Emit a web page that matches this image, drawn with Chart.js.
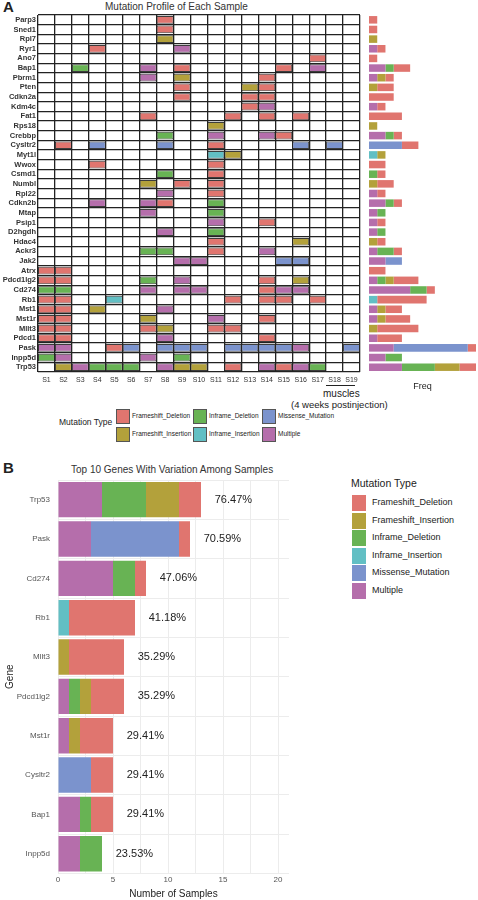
<!DOCTYPE html>
<html><head><meta charset="utf-8">
<script src="https://cdn.jsdelivr.net/npm/chart.js@4/dist/chart.umd.min.js"></script>
<style>
body{margin:0;width:478px;height:900px;position:relative;background:#fff;font-family:Arial,"Liberation Sans",sans-serif;overflow:hidden}
canvas{position:absolute}
.t{position:absolute;white-space:nowrap;color:#222}
.sw{position:absolute;width:14px;height:15px;border:1px solid #555;box-sizing:border-box}
</style></head><body>
<div class="t" style="left:3px;top:-2px;font-size:15px;font-weight:bold">A</div>
<div class="t" style="left:105px;top:1px;font-size:10px;color:#333">Mutation Profile of Each Sample</div>
<div class="t" style="left:3px;top:459px;font-size:15px;font-weight:bold">B</div>
<div class="t" style="left:71px;top:464px;font-size:10px;color:#333">Top 10 Genes With Variation Among Samples</div>
<div style="position:absolute;left:326px;top:385px;width:29px;height:1px;background:#222"></div>
<div class="t" style="left:323px;top:388px;font-size:10px">muscles</div>
<div class="t" style="left:291px;top:399px;font-size:9.5px">(4 weeks postinjection)</div>
<div id="legA"></div><div id="legB"></div>
<canvas id="cA" style="left:0;top:0" width="362" height="392"></canvas>
<canvas id="cF" style="left:362px;top:0" width="116" height="392"></canvas>
<canvas id="cB" style="left:0;top:460px" width="300" height="440"></canvas>
<script>
const samples=["S1","S2","S3","S4","S5","S6","S7","S8","S9","S10","S11","S12","S13","S14","S15","S16","S17","S18","S19"];
const genes=["Parp3","Sned1","Rpl7","Ryr1","Ano7","Bap1","Pbrm1","Pten","Cdkn2a","Kdm4c","Fat1","Rps18","Crebbp","Cysltr2","Myt1l","Wwox","Csmd1","Numbl","Rpl22","Cdkn2b","Mtap","Psip1","D2hgdh","Hdac4","Ackr3","Jak2","Atrx","Pdcd1lg2","Cd274","Rb1","Mst1","Mst1r","Mllt3","Pdcd1","Pask","Inpp5d","Trp53"];
const types=["Frameshift_Deletion","Frameshift_Insertion","Inframe_Deletion","Inframe_Insertion","Missense_Mutation","Multiple"];
const typeColors=["#E0756F","#B3A13B","#68B354","#62BFC4","#7B93CD","#B56EAB"];
const stackOrder=["Multiple","Inframe_Insertion","Inframe_Deletion","Frameshift_Insertion","Missense_Mutation","Frameshift_Deletion"];
// codes: D=Frameshift_Deletion I=Frameshift_Insertion G=Inframe_Deletion C=Inframe_Insertion B=Missense M=Multiple
const codeMap={D:"Frameshift_Deletion",I:"Frameshift_Insertion",G:"Inframe_Deletion",C:"Inframe_Insertion",B:"Missense_Mutation",M:"Multiple"};
const profile={
Parp3:{S8:"D"},Sned1:{S8:"D"},Rpl7:{S8:"I"},Ryr1:{S4:"D",S9:"M"},Ano7:{S17:"D"},
Bap1:{S3:"G",S7:"M",S9:"D",S15:"D",S17:"M"},Pbrm1:{S7:"M",S9:"I",S14:"D"},
Pten:{S9:"D",S13:"I",S14:"D"},Cdkn2a:{S9:"D",S13:"D",S14:"D"},Kdm4c:{S13:"D",S14:"M"},
Fat1:{S7:"D",S12:"D",S14:"D",S16:"D"},Rps18:{S11:"I"},Crebbp:{S8:"G",S11:"M",S14:"M",S15:"D"},
Cysltr2:{S2:"D",S4:"B",S8:"B",S11:"D",S16:"B",S18:"B"},Myt1l:{S11:"C",S12:"I"},Wwox:{S4:"D",S11:"D"},
Csmd1:{S8:"G",S11:"D"},Numbl:{S7:"I",S9:"D",S11:"D"},Rpl22:{S8:"M",S11:"D"},
Cdkn2b:{S4:"M",S7:"M",S8:"D",S11:"G"},Mtap:{S7:"M",S11:"G"},Psip1:{S11:"M",S14:"D"},
D2hgdh:{S8:"M",S11:"G"},Hdac4:{S11:"D",S16:"I"},Ackr3:{S7:"G",S8:"G",S11:"D",S14:"M"},
Jak2:{S9:"M",S10:"M",S15:"B",S16:"B"},Atrx:{S1:"D",S2:"D"},
Pdcd1lg2:{S1:"D",S2:"D",S7:"G",S9:"M",S14:"D",S16:"I"},
Cd274:{S1:"G",S2:"G",S7:"M",S9:"M",S10:"M",S14:"D",S15:"M",S16:"M"},
Rb1:{S1:"D",S2:"D",S5:"C",S12:"D",S14:"D",S15:"D",S17:"D"},Mst1:{S1:"D",S2:"D",S4:"I",S8:"M"},
Mst1r:{S1:"D",S2:"D",S7:"I",S11:"M",S14:"D"},Mllt3:{S1:"D",S2:"D",S7:"D",S8:"I",S11:"D",S12:"D"},
Pdcd1:{S1:"D",S2:"D",S8:"M",S14:"D"},
Pask:{S1:"M",S2:"M",S5:"D",S6:"B",S8:"B",S9:"B",S10:"B",S12:"B",S13:"B",S14:"B",S15:"B",S16:"M",S19:"B"},
Inpp5d:{S1:"G",S2:"M",S7:"M",S9:"G"},
Trp53:{S2:"I",S3:"M",S4:"G",S5:"G",S6:"G",S8:"M",S9:"I",S10:"I",S12:"D",S14:"M",S15:"D",S16:"M",S17:"G"}};
const topGenes=["Trp53","Pask","Cd274","Rb1","Mllt3","Pdcd1lg2","Mst1r","Cysltr2","Bap1","Inpp5d"];
const tumorSamples=samples.slice(0,17);
const colorOf=t=>typeColors[types.indexOf(t)];

// ---- Panel A grid
const gridSets=samples.map((s,si)=>({
  label:s,
  data:genes.map(g=>profile[g][s]?[si+0.5,si+1.5]:null),
  backgroundColor:genes.map(g=>profile[g][s]?colorOf(codeMap[profile[g][s]]):"rgba(0,0,0,0)"),
  borderColor:"rgba(40,40,40,0.9)",borderWidth:1,borderSkipped:false,
  barPercentage:0.8,categoryPercentage:1,grouped:false
}));
new Chart(document.getElementById("cA"),{type:"bar",data:{labels:genes,datasets:gridSets},
options:{indexAxis:"y",responsive:false,animation:false,layout:{padding:{top:15,right:2}},
plugins:{legend:{display:false},tooltip:{enabled:false}},
scales:{
 x:{type:"linear",min:0.5,max:19.5,afterBuildTicks:a=>{a.ticks=samples.map((s,i)=>({value:i+0.5})).concat([{value:19.5}]);},
   ticks:{display:false},grid:{color:"#222",lineWidth:1.3,drawTicks:false},border:{display:false},
   afterFit:s=>{s.height=0;}},
 x2:{type:"category",labels:samples,position:"bottom",offset:true,grid:{display:false},border:{display:false},
   ticks:{font:{size:7},color:"#333",padding:-4,maxRotation:0,autoSkip:false},afterFit:s=>{s.height=20;}},
 y:{grid:{offset:true,color:"#222",lineWidth:1.3,drawTicks:false},border:{display:false},
   ticks:{font:{size:7.5,weight:"bold"},color:"#333",padding:2,autoSkip:false},afterFit:s=>{s.width=38;}}
}}});

// ---- Freq
const freqSets=stackOrder.map(t=>({label:t,
  data:genes.map(g=>samples.filter(s=>profile[g][s]&&codeMap[profile[g][s]]===t).length),
  backgroundColor:colorOf(t),borderWidth:0,
  barPercentage:0.78,categoryPercentage:1}));
new Chart(document.getElementById("cF"),{type:"bar",data:{labels:genes,datasets:freqSets},
options:{indexAxis:"y",responsive:false,animation:false,layout:{padding:{top:15,left:7,right:2}},
plugins:{legend:{display:false},tooltip:{enabled:false}},
scales:{x:{stacked:true,min:0,max:13,ticks:{display:false},grid:{display:false},border:{display:false},
  title:{display:true,text:"Freq",font:{size:9},color:"#222",padding:{top:-4,bottom:0}},afterFit:s=>{s.height=20;}},
 y:{stacked:true,display:false}}}});

// ---- Legends
(function(){
 const L=document.getElementById("legA");let h='<div class="t" style="left:59px;top:417px;font-size:8.5px">Mutation Type</div>';
 const pos=[[116,409],[116,427],[193,409],[193,427],[262,409],[262,427]];
 types.forEach((t,i)=>{const [x,y]=pos[i];h+=`<div class="sw" style="left:${x}px;top:${y}px;background:${typeColors[i]}"></div><div class="t" style="left:${x+16}px;top:${y+3}px;font-size:6.5px">${t}</div>`;});
 L.innerHTML=h;
 const B=document.getElementById("legB");let b='<div class="t" style="left:351px;top:477px;font-size:10.5px">Mutation Type</div>';
 types.forEach((t,i)=>{const y=495+i*17.6;b+=`<div style="position:absolute;left:352px;top:${y}px;width:14px;height:16px;background:${typeColors[i]}"></div><div class="t" style="left:372px;top:${y+2}px;font-size:9px">${t}</div>`;});
 B.innerHTML=b;
})();

// ---- Panel B
const counts=stackOrder.map(t=>topGenes.map(g=>tumorSamples.filter(s=>profile[g][s]&&codeMap[profile[g][s]]===t).length));
const totals=topGenes.map(g=>tumorSamples.filter(s=>profile[g][s]).length);
const pctLabels=totals.map(v=>(v/tumorSamples.length*100).toFixed(2)+"%");
const pctPlugin={id:"pct",afterDatasetsDraw(c){const x=c.scales.x,y=c.scales.y,ctx=c.ctx;ctx.save();ctx.font="11px Arial";ctx.fillStyle="#222";ctx.textBaseline="middle";
 totals.forEach((v,i)=>ctx.fillText(pctLabels[i],x.getPixelForValue(v+1.25),y.getPixelForValue(i)));ctx.restore();}};
new Chart(document.getElementById("cB"),{type:"bar",
data:{labels:topGenes,datasets:stackOrder.map((t,i)=>({label:t,data:counts[i],backgroundColor:colorOf(t),borderWidth:0,barPercentage:0.9,categoryPercentage:1}))},
options:{indexAxis:"y",responsive:false,animation:false,layout:{padding:{top:20,right:11}},
plugins:{legend:{display:false},tooltip:{enabled:false}},
scales:{x:{stacked:true,min:0,max:21,afterBuildTicks:a=>{a.ticks=[0,2.5,5,7.5,10,12.5,15,17.5,20].map(v=>({value:v}));},
  ticks:{font:{size:8},color:"#555",padding:2,callback:v=>v%5===0?v:""},grid:{color:"#ececec",drawTicks:false},border:{display:false},
  title:{display:true,text:"Number of Samples",font:{size:10},color:"#222",padding:{top:1,bottom:0}}},
 y:{stacked:true,grid:{color:"#ececec",drawTicks:false},border:{display:false},
  ticks:{font:{size:8},color:"#555",padding:8},title:{display:true,text:"Gene",font:{size:10},color:"#222"},afterFit:s=>{s.width=58;}}}},
plugins:[pctPlugin]});
</script></body></html>
